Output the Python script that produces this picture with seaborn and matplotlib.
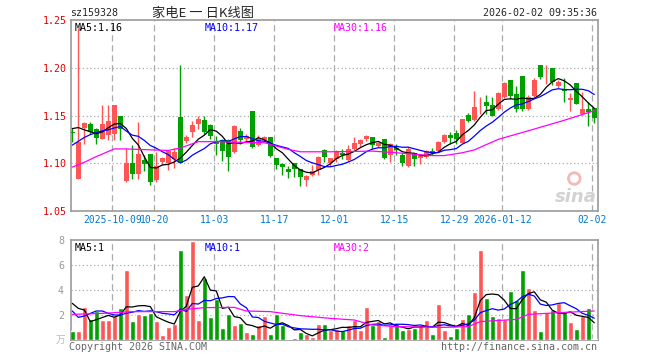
import numpy as np
import pandas as pd
import matplotlib
matplotlib.use('Agg')
import matplotlib.pyplot as plt
import seaborn as sns

sns.set_style('white')
plt.rcParams['font.family'] = ['DejaVu Sans Mono', 'Noto Sans CJK SC']

# daily candles, 2025-09-22 .. 2026-02-02
open_ = [1.133, 1.084, 1.137, 1.141, 1.136, 1.125, 1.130, 1.131, 1.149, 1.081,
         1.100, 1.089, 1.103, 1.110, 1.082, 1.101, 1.100, 1.104, 1.148, 1.123,
         1.133, 1.141, 1.145, 1.140, 1.123, 1.124, 1.124, 1.112, 1.134, 1.125,
         1.155, 1.119, 1.124, 1.128, 1.1056, 1.0996, 1.094, 1.100, 1.094, 1.0827,
         1.088, 1.093, 1.114, 1.100, 1.104, 1.111, 1.103, 1.1144, 1.1197, 1.125,
         1.128, 1.118, 1.125, 1.109, 1.116, 1.109, 1.097, 1.111, 1.1056, 1.107,
         1.1125, 1.113, 1.122, 1.130, 1.132, 1.1215, 1.1504, 1.145, 1.1658, 1.1638,
         1.161, 1.157, 1.169, 1.187, 1.1725, 1.191, 1.157, 1.170, 1.2025, 1.194,
         1.1997, 1.1807, 1.177, 1.1666, 1.184, 1.1514, 1.1567, 1.1574]
high = [1.137, 1.242, 1.143, 1.143, 1.137, 1.161, 1.161, 1.161, 1.149, 1.116,
        1.119, 1.143, 1.109, 1.110, 1.112, 1.107, 1.114, 1.116, 1.2025, 1.130,
        1.144, 1.149, 1.149, 1.141, 1.129, 1.125, 1.125, 1.140, 1.137, 1.131,
        1.155, 1.130, 1.129, 1.128, 1.106, 1.100, 1.097, 1.100, 1.094, 1.088,
        1.0986, 1.1074, 1.1144, 1.106, 1.114, 1.115, 1.1187, 1.127, 1.125, 1.130,
        1.128, 1.122, 1.125, 1.1215, 1.1197, 1.111, 1.117, 1.111, 1.109, 1.114,
        1.116, 1.123, 1.131, 1.1328, 1.1345, 1.146, 1.1525, 1.176, 1.169, 1.171,
        1.169, 1.1743, 1.185, 1.187, 1.181, 1.191, 1.171, 1.189, 1.2025, 1.2025,
        1.200, 1.187, 1.189, 1.174, 1.184, 1.1745, 1.1638, 1.157]
low = [1.122, 1.083, 1.120, 1.131, 1.120, 1.125, 1.124, 1.124, 1.124, 1.080,
       1.083, 1.083, 1.092, 1.0775, 1.080, 1.0986, 1.093, 1.095, 1.100, 1.121,
       1.127, 1.136, 1.131, 1.125, 1.109, 1.102, 1.0915, 1.111, 1.120, 1.123,
       1.116, 1.118, 1.123, 1.1067, 1.094, 1.088, 1.0845, 1.0855, 1.0764, 1.0757,
       1.0863, 1.088, 1.1014, 1.0975, 1.101, 1.104, 1.102, 1.1137, 1.117, 1.123,
       1.115, 1.117, 1.1046, 1.101, 1.109, 1.0975, 1.096, 1.0975, 1.0996, 1.106,
       1.109, 1.112, 1.121, 1.1197, 1.1197, 1.121, 1.1433, 1.144, 1.1514, 1.1514,
       1.149, 1.156, 1.168, 1.167, 1.154, 1.155, 1.156, 1.169, 1.188, 1.183,
       1.182, 1.179, 1.1638, 1.155, 1.162, 1.151, 1.139, 1.1426]
close = [1.132, 1.122, 1.142, 1.133, 1.126, 1.141, 1.144, 1.161, 1.136, 1.100,
         1.089, 1.110, 1.099, 1.080, 1.097, 1.105, 1.113, 1.112, 1.100, 1.128,
         1.140, 1.146, 1.133, 1.129, 1.120, 1.113, 1.107, 1.139, 1.124, 1.129,
         1.117, 1.125, 1.1275, 1.108, 1.0986, 1.096, 1.091, 1.094, 1.0856, 1.0863,
         1.092, 1.107, 1.107, 1.105, 1.1127, 1.109, 1.1144, 1.121, 1.1243, 1.1285,
         1.119, 1.1215, 1.1056, 1.1197, 1.1137, 1.100, 1.115, 1.104, 1.108, 1.1127,
         1.111, 1.122, 1.130, 1.126, 1.125, 1.146, 1.1444, 1.159, 1.1666, 1.160,
         1.150, 1.1735, 1.184, 1.170, 1.157, 1.157, 1.169, 1.187, 1.190, 1.195,
         1.1856, 1.1856, 1.1755, 1.168, 1.162, 1.1567, 1.154, 1.147]
volume = [0.75, 0.75, 2.64, 1.68, 2.32, 1.6, 1.6, 1.92, 2.56, 5.6,
          1.52, 2.08, 2.0, 2.16, 1.52, 0.4, 1.04, 1.28, 7.2, 3.6,
          7.95, 1.6, 4.96, 1.84, 3.28, 0.96, 2.08, 1.2, 1.36, 0.64,
          0.48, 1.2, 1.92, 0.48, 2.08, 1.2, 0.1, 0.2, 0.64, 0.48,
          0.24, 1.28, 1.28, 0.84, 0.88, 0.8, 1.2, 1.6, 0.8, 2.64,
          1.2, 1.56, 0.24, 1.2, 1.36, 0.8, 0.88, 0.96, 1.2, 1.6,
          0.48, 2.88, 0.8, 0.32, 0.96, 1.68, 2.08, 3.84, 7.2, 3.36,
          1.92, 1.76, 1.68, 3.92, 3.2, 5.6, 4.16, 2.4, 0.72, 2.24,
          2.4, 2.96, 2.24, 1.44, 0.88, 1.92, 2.56, 0.08]

# MA values at the left edge (they depend on days before the window)
ma5_start = [1.1363, 1.1374, 1.135, 1.133]
ma10_start = [1.119, 1.123, 1.127, 1.130, 1.132, 1.134, 1.135, 1.137, 1.1385]
vma5_start = [2.93, 2.53, 2.4, 1.47]
vma10_start = [2.32, 1.81, 1.92, 2.13, 2.32, 2.32, 2.13, 2.0, 2.0]

# MA30 lines (candle index, value)
ma30_idx = [0, 2, 4, 7, 9, 11, 16, 18, 21, 24, 27, 32, 36, 38, 43, 50, 54,
            60, 62, 65, 67, 71, 76, 82, 87]
ma30_price = [1.096, 1.101, 1.107, 1.115, 1.115, 1.1145, 1.1134, 1.116, 1.1226,
              1.1226, 1.122, 1.1215, 1.1145, 1.112, 1.112, 1.1127, 1.111, 1.108,
              1.108, 1.111, 1.114, 1.125, 1.134, 1.145, 1.155]
vol_ma30_idx = [0, 5, 10, 17, 19, 22, 27, 29, 33, 38, 43, 47, 50, 54, 62, 66,
                68, 74, 76, 82, 87]
vol_ma30 = [2.05, 2.13, 2.27, 2.27, 2.45, 2.59, 2.61, 2.32, 2.27, 1.95, 1.73,
            1.6, 1.2, 1.07, 1.01, 1.07, 1.47, 1.65, 2.05, 2.21, 2.32]

tick_idx = [7, 14, 24, 34, 44, 54, 64, 72, 87]
tick_labels = ['2025-10-09', '10-20', '11-03', '11-17', '12-01', '12-15',
               '12-29', '2026-01-12', '02-02']

RED = '#ff5555'
GREEN = '#00a000'
GRID = '#aaaaaa'
FS = 7.2


def moving(values, n, start):
    m = pd.Series(values).rolling(n).mean()
    m.iloc[:len(start)] = start
    return m


df = pd.DataFrame({'open': open_, 'high': high, 'low': low,
                   'close': close, 'vol': volume})
df['idx'] = np.arange(len(df))
df['dir'] = np.where(df['close'] >= df['open'], 'up', 'down')
df['ma5'] = moving(close, 5, ma5_start)
df['ma10'] = moving(close, 10, ma10_start)
df['vma5'] = moving(volume, 5, vma5_start)
df['vma10'] = moving(volume, 10, vma10_start)

W, H = 660, 360
fig = plt.figure(figsize=(6.6, 3.6), dpi=100)


def box(x0, y0, x1, y1):
    return [x0 / W, 1 - y1 / H, (x1 - x0) / W, (y1 - y0) / H]


def ftxt(x, y, s, **kw):
    fig.text(x / W, 1 - y / H, s, **kw)


ax = fig.add_axes(box(71, 20, 598, 211))
axv = fig.add_axes(box(71, 240, 598, 340))

xlim = (-0.22, 87.62)
grid_x = [i - 0.33 for i in tick_idx]

# ---- price pane ----
for d, col in [('up', RED), ('down', GREEN)]:
    s = df[df['dir'] == d]
    ax.vlines(s['idx'], s['low'], s['high'], color=col, lw=1, zorder=2)
    body = np.maximum((s['close'] - s['open']).abs(), 0.0009)
    ax.bar(s['idx'], body, bottom=np.minimum(s['open'], s['close']),
           width=0.8, color=col, lw=0, zorder=3)

sns.lineplot(x=df['idx'], y=df['ma5'], ax=ax, color='black', lw=0.9, zorder=4)
sns.lineplot(x=df['idx'], y=df['ma10'], ax=ax, color='#0000ff', lw=0.9, zorder=4)
sns.lineplot(x=ma30_idx, y=ma30_price, ax=ax, color='#ff00ff', lw=0.9, zorder=4)

ax.set_xlim(*xlim)
ax.set_ylim(1.05, 1.25)
for yv in [1.10, 1.15, 1.20]:
    ax.axhline(yv, color=GRID, lw=0.9, ls=(0, (1, 2)), zorder=1)
for xv in grid_x:
    ax.axvline(xv, color=GRID, lw=0.9, ls=(0, (5, 3)), zorder=1)
ax.set_yticks([1.05, 1.10, 1.15, 1.20, 1.25])
ax.set_yticklabels(['1.05', '1.10', '1.15', '1.20', '1.25'], color='#e00000', fontsize=FS)
ax.set_xticks(grid_x)
ax.set_xticklabels(tick_labels, color='#0078d0', fontsize=7)
ax.tick_params(length=0, pad=3)
ax.set_xlabel('')
ax.set_ylabel('')

ax.text(0.006, 0.985, 'MA5:1.16', transform=ax.transAxes, va='top', fontsize=FS, color='black')
ax.text(0.253, 0.985, 'MA10:1.17', transform=ax.transAxes, va='top', fontsize=FS, color='#0000ff')
ax.text(0.499, 0.985, 'MA30:1.16', transform=ax.transAxes, va='top', fontsize=FS, color='#ff00ff')
# sina watermark
ax.scatter([0.955], [0.17], s=70, transform=ax.transAxes, facecolor='none',
           edgecolor='#f4b8b8', lw=2, zorder=1)
ax.text(0.998, 0.025, 'sina', transform=ax.transAxes, ha='right', va='bottom',
        fontsize=13, fontweight='bold', style='italic', color='#d2d2d2',
        family='DejaVu Sans', zorder=1)

# ---- volume pane ----
sns.barplot(data=df, x='idx', y='vol', hue='dir', palette={'up': RED, 'down': GREEN},
            native_scale=True, dodge=False, width=0.8, errorbar=None,
            saturation=1, legend=False, ax=axv, zorder=3)
sns.lineplot(x=df['idx'], y=df['vma5'], ax=axv, color='black', lw=0.9, zorder=4)
sns.lineplot(x=df['idx'], y=df['vma10'], ax=axv, color='#0000ff', lw=0.9, zorder=4)
sns.lineplot(x=vol_ma30_idx, y=vol_ma30, ax=axv, color='#ff00ff', lw=0.9, zorder=4)

axv.set_xlim(*xlim)
axv.set_ylim(0, 8)
for yv in [2, 4, 6]:
    axv.axhline(yv, color=GRID, lw=0.9, ls=(0, (1, 2)), zorder=1)
for xv in grid_x:
    axv.axvline(xv, color=GRID, lw=0.9, ls=(0, (5, 3)), zorder=1)
axv.set_xticks([])
axv.set_yticks([2, 4, 6, 8])
axv.set_yticklabels(['2', '4', '6', '8'], color='#999999', fontsize=FS)
axv.tick_params(length=0, pad=5)
axv.set_xlabel('')
axv.set_ylabel('')

axv.text(0.006, 0.97, 'MA5:1', transform=axv.transAxes, va='top', fontsize=FS, color='black')
axv.text(0.253, 0.97, 'MA10:1', transform=axv.transAxes, va='top', fontsize=FS, color='#0000ff')
axv.text(0.499, 0.97, 'MA30:2', transform=axv.transAxes, va='top', fontsize=FS, color='#ff00ff')

for a in (ax, axv):
    for sp in a.spines.values():
        sp.set_color('#999999')
        sp.set_linewidth(1.2)

# ---- header / footer texts ----
ftxt(70, 13, 'sz159328', fontsize=FS, va='center', ha='left')
ftxt(203, 13, '家电E 一 日K线图', fontsize=9.5, va='center', ha='center',
     family=['Noto Sans CJK SC', 'DejaVu Sans'])
ftxt(597, 13, '2026-02-02 09:35:36', fontsize=FS, va='center', ha='right')
ftxt(69, 347, 'Copyright 2026 SINA.COM', fontsize=FS, va='center', ha='left', color='#666666')
ftxt(597, 347, 'http://finance.sina.com.cn', fontsize=FS, va='center', ha='right', color='#666666')
ftxt(65, 340, '万', fontsize=7, va='center', ha='right', color='#bbbbbb',
     family=['Noto Sans CJK SC', 'DejaVu Sans'])

fig.savefig('out.png', dpi=100, facecolor='white')
